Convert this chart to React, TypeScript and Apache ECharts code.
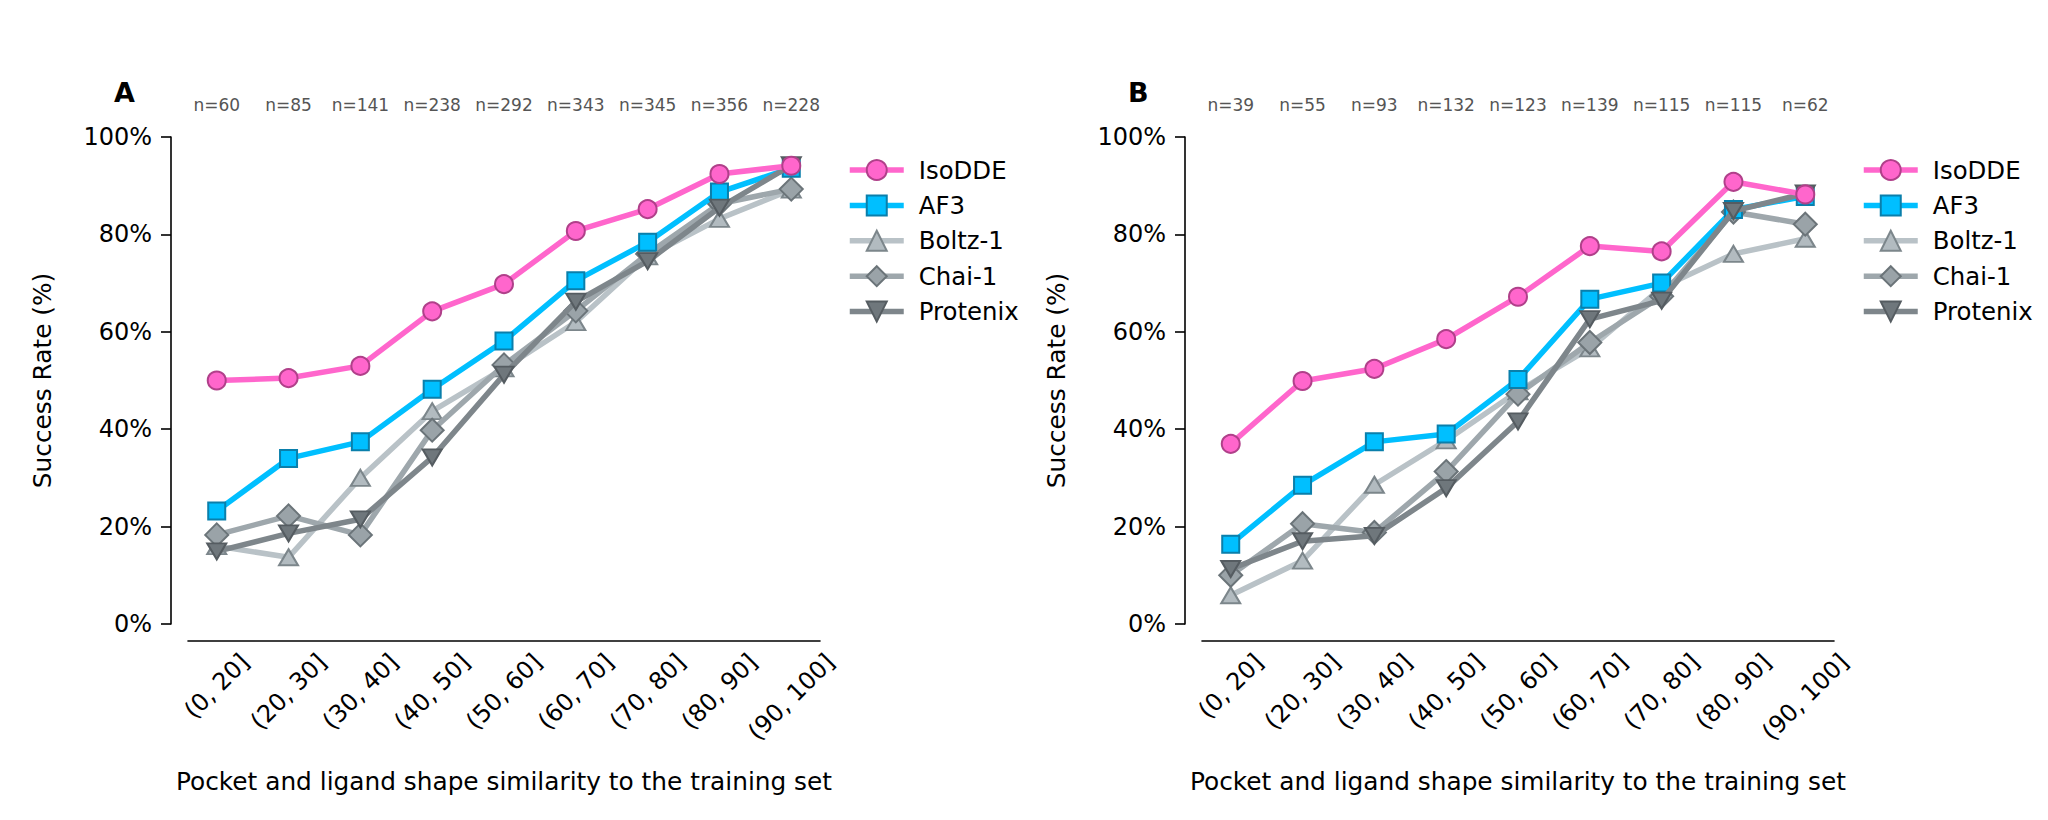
import React, { useEffect, useRef } from 'react';
import * as echarts from 'echarts';

const FONT = 'DejaVu Sans';

const categories = ['(0, 20]', '(20, 30]', '(30, 40]', '(40, 50]', '(50, 60]', '(60, 70]', '(70, 80]', '(80, 90]', '(90, 100]'];

const nA = [60, 85, 141, 238, 292, 343, 345, 356, 228];
const nB = [39, 55, 93, 132, 123, 139, 115, 115, 62];

const isoA = [50.0, 50.5, 53.0, 64.2, 69.8, 80.7, 85.2, 92.4, 94.1];
const af3A = [23.2, 34.0, 37.4, 48.2, 58.1, 70.5, 78.4, 88.7, 93.6];
const boltzA = [16.0, 13.7, 30.0, 43.7, 52.5, 62.0, 75.5, 83.2, 89.2];
const chaiA = [18.3, 22.2, 18.3, 39.8, 53.2, 64.3, 76.0, 86.3, 89.3];
const protA = [14.9, 18.6, 21.5, 34.2, 51.2, 66.2, 74.5, 85.5, 94.2];

const isoB = [37.0, 49.9, 52.4, 58.5, 67.2, 77.6, 76.5, 90.8, 88.2];
const af3B = [16.4, 28.5, 37.4, 39.0, 50.2, 66.7, 70.0, 85.1, 87.8];
const boltzB = [5.9, 13.0, 28.6, 37.7, 47.8, 56.6, 69.1, 76.0, 79.1];
const chaiB = [10.0, 20.6, 18.8, 31.3, 47.2, 57.8, 67.3, 84.6, 82.1];
const protB = [11.3, 17.0, 18.1, 27.9, 41.6, 62.6, 66.4, 84.8, 88.4];

const legendNames = ['IsoDDE', 'AF3', 'Boltz-1', 'Chai-1', 'Protenix'];

type Style = { line: string; fill: string; border: string; symbol: string; size: number | number[]; rotate?: number; z: number };
const styles: Record<string, Style> = {
  'Boltz-1': { line: '#B9C2C7', fill: '#B2BBC0', border: '#7C868B', symbol: 'triangle', size: [19, 16], z: 2 },
  'Chai-1': { line: '#9EA7AC', fill: '#9AA3A8', border: '#6B7479', symbol: 'diamond', size: [23, 23], z: 3 },
  'AF3': { line: '#00BFFF', fill: '#00BFFF', border: '#0A7FAB', symbol: 'rect', size: 17, z: 4 },
  'Protenix': { line: '#7E868B', fill: '#6F777C', border: '#555C61', symbol: 'triangle', size: [19, 16], rotate: 180, z: 5 },
  'IsoDDE': { line: '#FF66CC', fill: '#FF66CC', border: '#B0408A', symbol: 'circle', size: 18, z: 6 },
};
const drawOrder = ['Boltz-1', 'Chai-1', 'AF3', 'Protenix', 'IsoDDE'];

const panels = [
  { letter: 'A', n: nA, data: { IsoDDE: isoA, AF3: af3A, 'Boltz-1': boltzA, 'Chai-1': chaiA, Protenix: protA } as Record<string, number[]> },
  { letter: 'B', n: nB, data: { IsoDDE: isoB, AF3: af3B, 'Boltz-1': boltzB, 'Chai-1': chaiB, Protenix: protB } as Record<string, number[]> },
];

const TICK_FS = 24;
const TITLE_FS = 24.8;
const LINE_W = 5.5;
let measureCtx: CanvasRenderingContext2D | null = null;
function textWidth(t: string, size: number) {
  if (!measureCtx) measureCtx = document.createElement('canvas').getContext('2d');
  if (!measureCtx) return t.length * size * 0.55;
  measureCtx.font = `${size}px "${FONT}"`;
  return measureCtx.measureText(t).width;
}

export default function App() {
  const ref = useRef<HTMLDivElement>(null);
  useEffect(() => {
    if (!ref.current) return;
    const chart = echarts.init(ref.current, null, { renderer: 'svg' });
    const PANEL_DX = 1014;
    const grids: any[] = [];
    const xAxes: any[] = [];
    const yAxes: any[] = [];
    const series: any[] = [];
    const legends: any[] = [];
    const graphics: any[] = [];
    const idx = categories.map((_, i) => i);

    panels.forEach((p, pi) => {
      const left = 188 + pi * PANEL_DX;
      grids.push({ left, top: 137, width: 632, height: 487 });
      xAxes.push({
        type: 'value', gridIndex: pi, position: 'bottom', min: -0.4, max: 8.4, offset: 17,
        axisLine: { show: true, onZero: false, lineStyle: { color: '#000', width: 1.6 } },
        axisTick: { show: false }, axisLabel: { show: false }, splitLine: { show: false },
        name: 'Pocket and ligand shape similarity to the training set',
        nameLocation: 'middle', nameGap: 128,
        nameTextStyle: { fontSize: TITLE_FS, color: '#000', fontFamily: FONT },
      });
      xAxes.push({
        type: 'value', gridIndex: pi, position: 'top', min: -0.4, max: 8.4,
        axisLine: { show: false, onZero: false }, axisTick: { show: false }, splitLine: { show: false },
        axisLabel: {
          show: true, customValues: idx, margin: 24, fontSize: 17, color: '#555', fontFamily: FONT,
          formatter: (v: number) => 'n=' + p.n[Math.round(v)],
        },
      });
      yAxes.push({
        type: 'value', gridIndex: pi, position: 'left', min: 0, max: 100, interval: 20, offset: 17,
        axisLine: { show: true, onZero: false, lineStyle: { color: '#000', width: 1.6 } },
        axisTick: { show: true, length: 10, lineStyle: { color: '#000', width: 1.6 } },
        axisLabel: { formatter: '{value}%', fontSize: TICK_FS, color: '#000', margin: 19, fontFamily: FONT },
        splitLine: { show: false },
        name: 'Success Rate (%)', nameLocation: 'middle', nameGap: 116,
        nameTextStyle: { fontSize: TITLE_FS, color: '#000', fontFamily: FONT },
      });
      drawOrder.forEach((name) => {
        const s = styles[name];
        series.push({
          type: 'line', name, xAxisIndex: pi * 2, yAxisIndex: pi,
          data: p.data[name].map((v, i) => [i, v]),
          symbol: s.symbol, symbolSize: s.size, symbolRotate: s.rotate || 0,
          showAllSymbol: true,
          lineStyle: { color: s.line, width: LINE_W },
          itemStyle: { color: s.fill, borderColor: s.border, borderWidth: 2 },
          z: s.z, emphasis: { disabled: true }, silent: true,
        });
      });
      series.push({
        type: 'custom', name: 'xlabels' + pi, xAxisIndex: pi * 2, yAxisIndex: pi, silent: true, z: 1,
        data: idx.map((i) => [i, 0]),
        renderItem: (params: any, api: any) => {
          const i = params.dataIndex;
          const pt = api.coord([api.value(0), api.value(1)]);
          const txt = categories[i];
          const L = textWidth(txt, TICK_FS);
          const h = TICK_FS * 0.95;
          const half = (L + h) / (2 * Math.SQRT2);
          return {
            type: 'text', x: pt[0], y: pt[1] + 17 + 9 + half, rotation: Math.PI / 4,
            style: { text: txt, fontSize: TICK_FS, fontFamily: FONT, fill: '#000', align: 'center', verticalAlign: 'middle' },
          };
        },
      });
      legends.push({
        data: legendNames, orient: 'vertical', left: 842 + pi * PANEL_DX, top: 153,
        itemWidth: 54, itemHeight: 25, itemGap: 11.4, selectedMode: false,
        lineStyle: { width: LINE_W },
        formatter: '{a|{name}}',
        textStyle: { fontSize: 24.4, color: '#000', fontFamily: FONT, rich: { a: { fontSize: 24.4, fontFamily: FONT, color: '#000', padding: [0, 0, 0, 10] } } },
      });
      graphics.push({
        type: 'text', x: 114 + pi * PANEL_DX, y: 92,
        style: { text: p.letter, font: `bold 27px "${FONT}"`, fill: '#000', align: 'left', verticalAlign: 'middle' },
      });
    });

    chart.setOption({
      animation: false,
      backgroundColor: '#fff',
      textStyle: { fontFamily: FONT },
      grid: grids, xAxis: xAxes, yAxis: yAxes, series, legend: legends, graphic: graphics,
    });
    return () => chart.dispose();
  }, []);
  return <div ref={ref} style={{ position: 'fixed', left: 0, top: 0, width: 2048, height: 820, background: '#fff' }} />;
}
